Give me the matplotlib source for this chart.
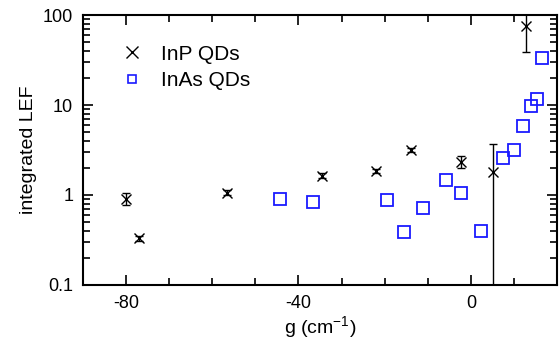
import numpy as np
import matplotlib
matplotlib.use('Agg')
import matplotlib.pyplot as plt
from matplotlib.ticker import NullFormatter, MultipleLocator

plt.rcParams['font.family'] = ['Liberation Sans', 'DejaVu Sans']
plt.rcParams['mathtext.fontset'] = 'custom'
plt.rcParams['mathtext.rm'] = 'Liberation Sans'

# InP QDs (with error bars)
inp_g = [-80, -77, -56.5, -34.5, -22.1, -13.9, -2.2, 5.2, 12.7]
inp_lef = [0.90, 0.33, 1.06, 1.64, 1.85, 3.16, 2.31, 1.82, 75.5]
inp_err_lo = [0.12, 0.02, 0.07, 0.10, 0.11, 0.18, 0.32, 1.78, 37.0]
inp_err_hi = [0.14, 0.02, 0.07, 0.10, 0.11, 0.18, 0.37, 1.84, 40.0]

# InAs QDs
inas_g = [-44.2, -36.7, -19.4, -15.5, -11.1, -5.7, -2.2, 2.4, 7.5, 10.0,
          12.1, 14.0, 15.2, 16.5]
inas_lef = [0.896, 0.836, 0.873, 0.39, 0.72, 1.47, 1.06, 0.40, 2.56, 3.19,
            5.84, 9.75, 11.6, 33.0]

fig = plt.figure(figsize=(5.6, 3.5), dpi=100)
ax = fig.add_axes([0.148, 0.186, 0.847, 0.771])

ax.errorbar(inp_g, inp_lef, yerr=[inp_err_lo, inp_err_hi], fmt='x', color='black',
            ms=7.5, mew=1.0, elinewidth=1.0, capsize=3, capthick=1.0,
            label='InP QDs')
ax.plot(inas_g, inas_lef, 's', ms=8.5, mfc='none', mec='#1a1aff', mew=1.3,
        linestyle='none', label='InAs QDs')

ax.set_yscale('log', nonpositive='clip')
ax.set_xlim(-90, 20)
ax.set_ylim(0.1, 100)
ax.set_yticks([0.1, 1, 10, 100])
ax.set_yticklabels(['0.1', '1', '10', '100'])
ax.yaxis.set_minor_formatter(NullFormatter())
ax.set_xticks([-80, -40, 0])
ax.set_xticklabels(['-80', '-40', '0'])
ax.xaxis.set_minor_locator(MultipleLocator(10))

ax.tick_params(which='both', direction='in', top=True, right=True,
               labelsize=13, width=1.2, pad=7)
ax.tick_params(which='major', length=7)
ax.tick_params(which='minor', length=5)
for s in ax.spines.values():
    s.set_linewidth(1.5)

ax.set_xlabel('g (cm$^{-1}$)', fontsize=14, labelpad=2)
ax.set_ylabel('integrated LEF', fontsize=14, labelpad=4)

handles = [plt.Line2D([], [], marker='x', color='black', ls='none', ms=8, mew=1.0),
           plt.Line2D([], [], marker='s', mfc='none', mec='#1a1aff', ls='none', ms=6, mew=1.2)]
ax.legend(handles, ['InP QDs', 'InAs QDs'], loc='upper left', frameon=False,
          fontsize=15, handletextpad=0.4, labelspacing=0.35,
          bbox_to_anchor=(0.02, 0.96))

fig.savefig('out.png', dpi=100)
